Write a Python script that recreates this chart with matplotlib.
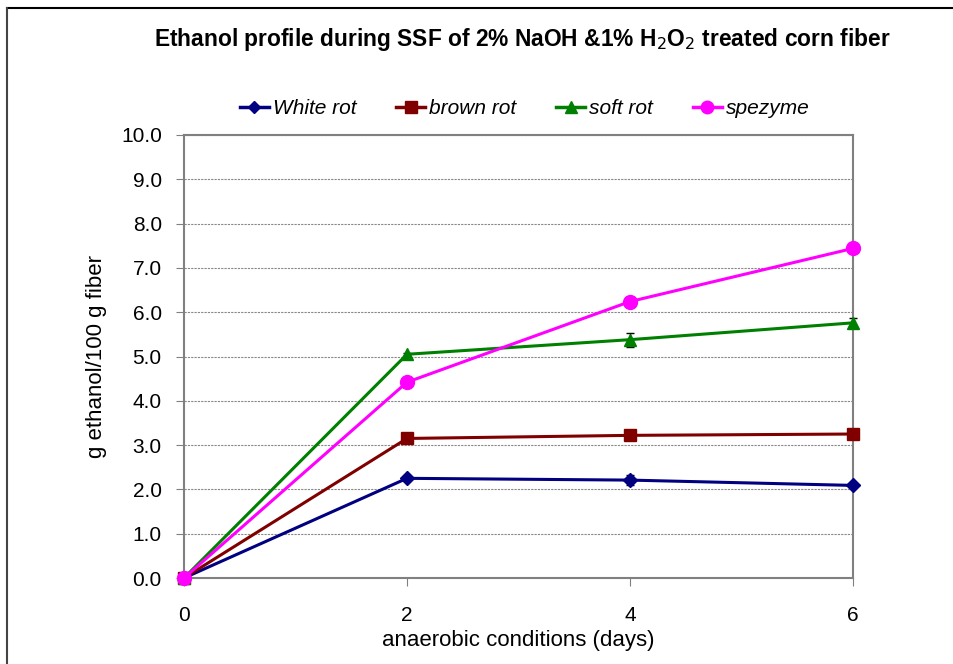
import matplotlib.pyplot as plt
from matplotlib.lines import Line2D

plt.rcParams['font.family'] = ['Liberation Sans', 'DejaVu Sans']

days = [0, 2, 4, 6]
white_rot = [0.0, 2.25, 2.21, 2.09]
brown_rot = [0.0, 3.15, 3.22, 3.25]
soft_rot = [0.0, 5.05, 5.38, 5.76]
spezyme = [0.0, 4.42, 6.24, 7.44]
white_err = [0.0, 0.04, 0.12, 0.03]
brown_err = [0.0, 0.03, 0.04, 0.1]
soft_err = [0.0, 0.03, 0.16, 0.12]
spez_err = [0.0, 0.05, 0.1, 0.03]

series = [
    ('White rot', white_rot, white_err, '#000080', 'D', 7),
    ('brown rot', brown_rot, brown_err, '#800000', 's', 9),
    ('soft rot', soft_rot, soft_err, '#008000', '^', 9),
    ('spezyme', spezyme, spez_err, '#ff00ff', 'o', 10),
]

fig = plt.figure(figsize=(9.54, 6.64), dpi=100)
ax = fig.add_axes([184 / 954, 86 / 664, 669 / 954, 443 / 664])

handles = []
for name, vals, err, col, mk, ms in series:
    ax.errorbar(days, vals, yerr=err, color=col, marker=mk, markersize=ms,
                linewidth=2.2, ecolor='black', elinewidth=1, capsize=3,
                clip_on=False, zorder=3)
    handles.append(Line2D([0], [0], color=col, marker=mk, markersize=ms - 1,
                          linewidth=2.5, label=name))

ax.set_xlim(0, 6)
ax.set_ylim(0, 10)
ax.set_xticks(days)
ax.set_yticks([i for i in range(11)])
ax.set_yticklabels(['%.1f' % i for i in range(11)])
ax.tick_params(axis='both', labelsize=15, color='#808080', length=6,
               direction='out')
ax.tick_params(axis='x', pad=14)
ax.tick_params(axis='y', pad=10)
ax.yaxis.grid(True, linestyle=(0, (2, 1)), color='#888888', linewidth=0.8)
ax.set_axisbelow(True)
for s in ax.spines.values():
    s.set_color('#808080')
    s.set_linewidth(1.5)

ax.set_xlabel('anaerobic conditions (days)', fontsize=16, labelpad=4)
ax.set_ylabel('g ethanol/100 g fiber', fontsize=16, labelpad=10)

fig.text(0.547, 0.94, r'Ethanol profile during SSF of 2% NaOH &1% H$_2$O$_2$ treated corn fiber',
         ha='center', va='center', fontsize=16.4, fontweight='bold')
fig.legend(handles=handles, loc='center', bbox_to_anchor=(0.55, 0.836), ncol=4,
           frameon=False, prop={'style': 'italic', 'size': 15},
           handlelength=1.4, handletextpad=0.2, columnspacing=1.9)

# chart border
fig.add_artist(Line2D([7 / 954, 1], [1 - 8 / 664, 1 - 8 / 664], color='black', lw=1.5))
fig.add_artist(Line2D([7 / 954, 7 / 954], [0, 1 - 8 / 664], color='#444444', lw=1.5))

fig.savefig('out.png', dpi=100)
